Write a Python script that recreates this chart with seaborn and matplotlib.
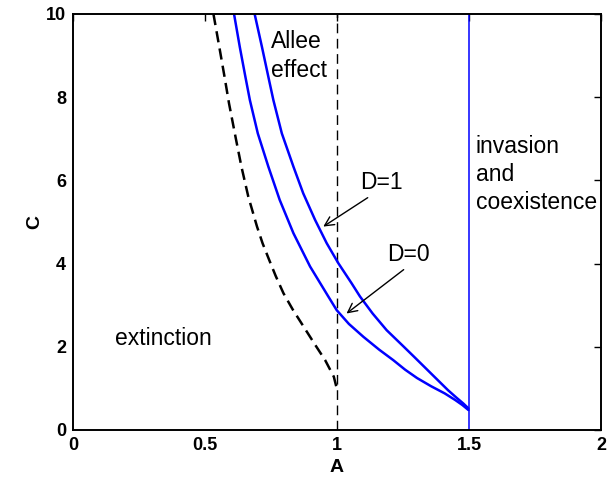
import numpy as np
import pandas as pd
import matplotlib
matplotlib.use("Agg")
import matplotlib.pyplot as plt
import seaborn as sns

# ---- data ----
# black dashed boundary (extinction / Allee effect)
ext_A = [0.532, 0.553, 0.574, 0.591, 0.617, 0.638, 0.664, 0.697, 0.718, 0.743, 0.768,
         0.797, 0.832, 0.874, 0.917, 0.955, 0.974, 0.988, 0.999]
ext_C = [10.0, 9.25, 8.49, 7.85, 7.00, 6.33, 5.61, 4.89, 4.49, 4.09, 3.70,
         3.29, 2.90, 2.48, 2.05, 1.68, 1.45, 1.28, 1.00]

# blue D=0 curve
d0_A = [0.610, 0.632, 0.653, 0.670, 0.700, 0.740, 0.783, 0.835, 0.898, 0.967, 0.999,
        1.045, 1.100, 1.160, 1.213, 1.258, 1.303, 1.357, 1.408, 1.448, 1.475, 1.498]
d0_C = [10.0, 9.20, 8.49, 7.93, 7.13, 6.33, 5.53, 4.73, 3.93, 3.21, 2.88,
        2.55, 2.24, 1.93, 1.68, 1.45, 1.25, 1.05, 0.88, 0.72, 0.60, 0.48]

# blue D=1 curve
d1_A = [0.688, 0.716, 0.743, 0.759, 0.791, 0.835, 0.872, 0.917, 0.961, 1.005, 1.055,
        1.087, 1.135, 1.188, 1.250, 1.292, 1.356, 1.420, 1.452, 1.478, 1.498]
d1_C = [10.0, 9.20, 8.40, 7.93, 7.13, 6.33, 5.69, 5.05, 4.49, 4.01, 3.53,
        3.21, 2.80, 2.40, 2.02, 1.76, 1.36, 0.96, 0.78, 0.64, 0.52]

# vertical boundaries
allee_A = [1.0, 1.0]
allee_C = [0.0, 10.0]
inv_A = [1.5, 1.5]
inv_C = [0.0, 10.0]

x_ticks = [0, 0.5, 1, 1.5, 2]
x_ticklabels = ["0", "0.5", "1", "1.5", "2"]
y_ticks = [0, 2, 4, 6, 8, 10]
y_ticklabels = ["0", "2", "4", "6", "8", "10"]

sns.set_theme(style="white")
plt.rcParams["font.family"] = ["Liberation Sans", "DejaVu Sans"]
plt.rcParams["text.color"] = "black"
plt.rcParams["axes.labelcolor"] = "black"

fig = plt.figure(figsize=(6.13, 4.83), dpi=100)
ax = fig.add_axes([73 / 613, 53 / 483, 528 / 613, 416 / 483])

blue = "#0000ff"
common = dict(ax=ax, sort=False, estimator=None)
sns.lineplot(x=allee_A, y=allee_C, color="black", lw=1.0,
             linestyle=(0, (7, 4)), **common)
sns.lineplot(x=inv_A, y=inv_C, color=blue, lw=1.1, **common)
sns.lineplot(x=ext_A, y=ext_C, color="black", lw=1.8,
             linestyle=(0, (4.5, 2.5)), **common)
sns.lineplot(x=d0_A, y=d0_C, color=blue, lw=1.8, **common)
sns.lineplot(x=d1_A, y=d1_C, color=blue, lw=1.8, **common)

ax.set_xlim(0, 2)
ax.set_ylim(0, 10)
ax.set_xticks(x_ticks)
ax.set_xticklabels(x_ticklabels, fontsize=13, fontweight="bold")
ax.set_yticks(y_ticks)
ax.set_yticklabels(y_ticklabels, fontsize=13, fontweight="bold")
ax.tick_params(direction="in", length=5, width=1.0, top=True, right=True,
               colors="black", pad=5)
for s in ax.spines.values():
    s.set_visible(True)
    s.set_color("black")
    s.set_linewidth(1.4)
ax.set_xlabel("A", fontsize=14, fontweight="bold", labelpad=4)
ax.set_ylabel("C", fontsize=14, fontweight="bold", labelpad=2)

fs = 16.5
ax.text(0.75, 9.33, "Allee", fontsize=fs, ha="left", va="center")
ax.text(0.75, 8.65, "effect", fontsize=fs, ha="left", va="center")
ax.text(1.525, 6.81, "invasion", fontsize=fs, ha="left", va="center")
ax.text(1.525, 6.13, "and", fontsize=fs, ha="left", va="center")
ax.text(1.525, 5.47, "coexistence", fontsize=fs, ha="left", va="center")
ax.text(0.16, 2.2, "extinction", fontsize=fs, ha="left", va="center")

ax.annotate("D=1", xy=(0.948, 4.89), xytext=(1.087, 5.94), fontsize=fs,
            ha="left", va="center",
            arrowprops=dict(arrowstyle="->", color="black", lw=1.0,
                            shrinkA=0, shrinkB=0, relpos=(0.3, 0.0)))
ax.annotate("D=0", xy=(1.036, 2.80), xytext=(1.188, 4.21), fontsize=fs,
            ha="left", va="center",
            arrowprops=dict(arrowstyle="->", color="black", lw=1.0,
                            shrinkA=0, shrinkB=0, relpos=(0.5, 0.0)))

fig.savefig("out.png", dpi=100)
